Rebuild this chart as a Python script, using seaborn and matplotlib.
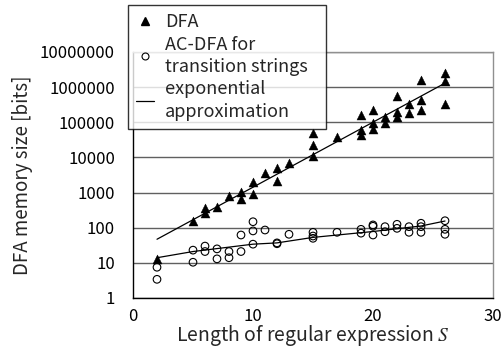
import matplotlib
matplotlib.use("Agg")
import matplotlib.pyplot as plt
import seaborn as sns
import pandas as pd
from matplotlib.lines import Line2D

# ---- data ----
dfa_x = [2, 5, 6, 6, 7, 8, 9, 9, 10, 10, 11, 12, 12, 13,
         15, 15, 15, 17, 19, 19, 19, 20, 20, 20, 21, 21,
         22, 22, 22, 23, 23, 24, 24, 24, 26, 26, 26]
dfa_y = [13, 160, 355, 257, 400, 815, 1040, 640, 2040, 900, 3700, 4900, 2200, 7100,
         49000, 22600, 11000, 37000, 162000, 60000, 44000, 224000, 94000, 63000, 145000, 98000,
         570000, 200000, 139000, 325000, 180000, 1600000, 430000, 224000, 2600000, 1500000, 325000]

ac_x = [2, 2, 5, 5, 6, 6, 7, 7, 8, 8, 9, 9, 10, 10, 10, 11, 12, 12, 13,
        15, 15, 15, 17, 19, 19, 20, 20, 20, 21, 21, 22, 22, 23, 23,
        24, 24, 24, 26, 26, 26]
ac_y = [7.5, 3.4, 23, 10.4, 30, 21, 25, 13, 21, 14, 62, 21, 148, 81, 34, 86, 37, 35, 65,
        74, 58, 50, 74, 90, 70, 120, 110, 62, 107, 77, 125, 96, 107, 74,
        134, 107, 74, 158, 90, 65]

dfa_fit_x = [2, 26]
dfa_fit_y = [47, 1300000]
ac_fit_x = [2, 5, 10, 12, 15, 20, 24, 26]
ac_fit_y = [14, 21, 34, 37, 53, 78, 112, 155]

ytick_vals = [1, 10, 100, 1000, 10000, 100000, 1000000, 10000000]
ytick_labels = ["1", "10", "100", "1000", "10000", "100000", "1000000", "10000000"]
xtick_vals = [0, 10, 20, 30]

sns.set_theme(style="white")
plt.rcParams["font.family"] = ["Noto Sans CJK JP", "DejaVu Sans"]
plt.rcParams["mathtext.fontset"] = "stix"

fig = plt.figure(figsize=(5.03, 3.5), dpi=100)
ax = fig.add_axes([133/503, 52/350, 360/503, 246/350])

dfa_df = pd.DataFrame({"x": dfa_x, "y": dfa_y})
ac_df = pd.DataFrame({"x": ac_x, "y": ac_y})

sns.scatterplot(data=ac_df, x="x", y="y", ax=ax, marker="o", s=30,
                facecolor="none", edgecolor="black", linewidth=0.8, zorder=3)
sns.scatterplot(data=dfa_df, x="x", y="y", ax=ax, marker="^", s=42,
                color="black", edgecolor="black", linewidth=0.3, zorder=3)
sns.lineplot(x=dfa_fit_x, y=dfa_fit_y, ax=ax, color="black", linewidth=0.9, zorder=2)
sns.lineplot(x=ac_fit_x, y=ac_fit_y, ax=ax, color="black", linewidth=0.9, zorder=2)

ax.set_yscale("log")
ax.set_ylim(1, 1e7)
ax.set_xlim(0, 30)
ax.set_yticks(ytick_vals)
ax.set_yticklabels(ytick_labels)
ax.minorticks_off()
ax.set_xticks(xtick_vals)
ax.set_xticklabels([str(v) for v in xtick_vals])

ax.grid(axis="y", color="#606060", linewidth=1.0)
ax.grid(axis="x", visible=False)
ax.set_axisbelow(True)

for side in ["left", "bottom"]:
    ax.spines[side].set_color("black")
    ax.spines[side].set_linewidth(1.0)
for side in ["top", "right"]:
    ax.spines[side].set_color("#909090")
    ax.spines[side].set_linewidth(1.0)

ax.tick_params(axis="y", length=0, pad=13, labelsize=12, colors="black")
ax.tick_params(axis="x", direction="in", length=5, width=1, color="#808080",
               pad=7, labelsize=12, labelcolor="black")

ax.set_xlabel("Length of regular expression $S$", fontsize=14, labelpad=-1)
ax.set_ylabel("DFA memory size [bits]", fontsize=13.5, labelpad=5)

handles = [
    Line2D([], [], marker="^", color="black", linestyle="none", markersize=6),
    Line2D([], [], marker="o", markerfacecolor="none", markeredgecolor="black",
           linestyle="none", markersize=5, markeredgewidth=0.8),
    Line2D([], [], color="black", linewidth=0.9),
]
labels = ["DFA", "AC-DFA for\ntransition strings", "exponential\napproximation"]
leg = ax.legend(handles, labels, loc="upper left", mode="expand",
                bbox_to_anchor=(128/503, 1 - 125/350, 198/503, 120/350),
                bbox_transform=fig.transFigure,
                fontsize=13, frameon=True, fancybox=False, handlelength=1.0,
                handletextpad=0.6, borderaxespad=0, borderpad=0.45,
                labelspacing=0.25)
for t in leg.get_texts():
    t.set_linespacing(1.3)
leg.get_frame().set_edgecolor("black")
leg.get_frame().set_linewidth(1.0)
leg.set_zorder(10)

fig.savefig("out.png", dpi=100)
